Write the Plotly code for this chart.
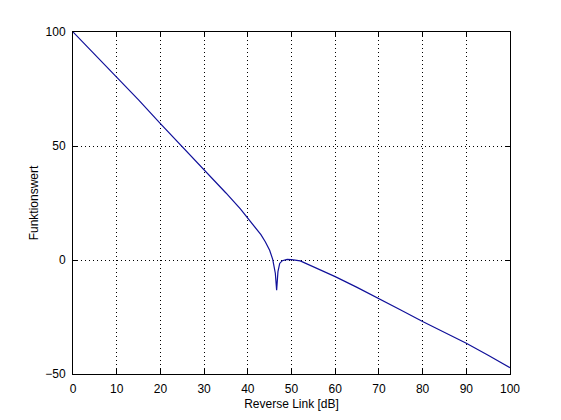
import plotly.graph_objects as go

# Values
reverse_link_db = [0, 5, 10, 15, 20, 25, 30, 35, 38.3, 40, 42, 43, 44, 45, 45.7,
                   46.3, 46.6, 46.9, 47.3, 47.9, 49, 50, 52, 54.4, 57, 60, 65,
                   70, 75, 80, 85, 90, 95, 100]
funktionswert = [100, 90, 80.3, 70.2, 59.8, 49.8, 39.6, 29.4, 22.4, 18.3, 14.0,
                 11.1, 8.0, 4.3, 0.3, -5.8, -13.2, -5.1, -1.5, -0.3, 0.3, 0.2,
                 -0.4, -2.4, -4.8, -7.3, -12.0, -16.8, -21.9, -27.0, -31.8,
                 -36.5, -41.8, -47.2]
x_ticks = [0, 10, 20, 30, 40, 50, 60, 70, 80, 90, 100]
y_ticks = [-50, 0, 50, 100]

fig = go.Figure()
fig.add_trace(go.Scatter(x=reverse_link_db, y=funktionswert, mode="lines",
                         line=dict(color="#10109a", width=1.2), showlegend=False))

axis_common = dict(
    showline=True, linecolor="black", linewidth=1, mirror="ticks",
    ticks="inside", ticklen=5, tickcolor="black", tickwidth=1,
    showgrid=True, gridcolor="black", gridwidth=1, griddash="1px,3px",
    zeroline=False, tickfont=dict(family="Liberation Sans, Arial", size=12, color="black"),
)

fig.update_xaxes(range=[0, 100], tickvals=x_ticks, ticklabelstandoff=4,
                 title=dict(text="Reverse Link [dB]", standoff=4,
                            font=dict(family="Liberation Sans, Arial", size=12, color="black")),
                 **axis_common)
fig.update_yaxes(range=[-50, 100], tickvals=y_ticks, ticklabelstandoff=4,
                 title=dict(text="Funktionswert", standoff=4,
                            font=dict(family="Liberation Sans, Arial", size=12, color="black")),
                 **axis_common)

# The page body has an 8px margin, so the figure is 8px smaller and shifted
fig.update_layout(width=553, height=412, margin=dict(l=65, r=51, t=24, b=46),
                  paper_bgcolor="white", plot_bgcolor="white")

fig.write_html("out.html")
